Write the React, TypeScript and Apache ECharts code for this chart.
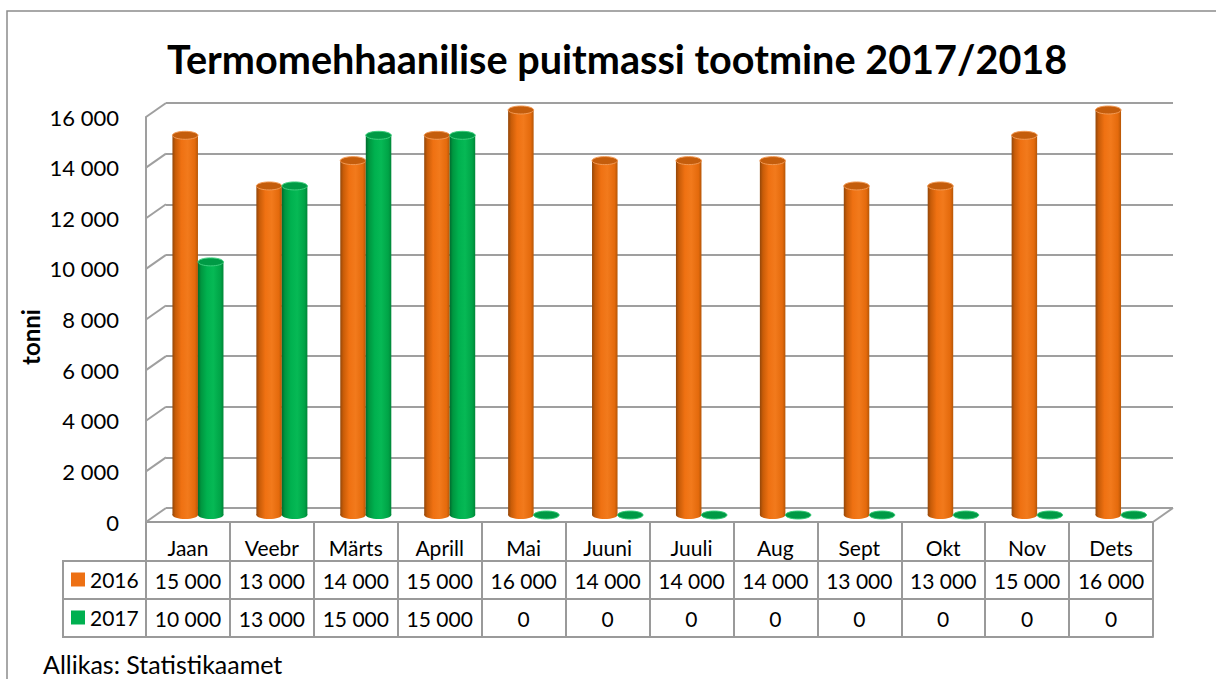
import React, { useEffect, useRef } from "react";
import * as echarts from "echarts";

const months = ["Jaan", "Veebr", "Märts", "Aprill", "Mai", "Juuni", "Juuli", "Aug", "Sept", "Okt", "Nov", "Dets"];
const values2016 = [15000, 13000, 14000, 15000, 16000, 14000, 14000, 14000, 13000, 13000, 15000, 16000];
const values2017 = [10000, 13000, 15000, 15000, 0, 0, 0, 0, 0, 0, 0, 0];
const yTicks = [0, 2000, 4000, 6000, 8000, 10000, 12000, 14000, 16000];
const seriesNames = ["2016", "2017"];
const titleText = "Termomehhaanilise puitmassi tootmine 2017/2018";
const yAxisTitle = "tonni";
const sourceText = "Allikas: Statistikaamet";

const FONT = "Lato";
const GRID_COLOR = "#9f9f9f";
const TABLE_COLOR = "#9a9a9a";
const DEPTH_X = 20;
const DEPTH_Y = 14;

const fmt = (v: number) => String(v).replace(/\B(?=(\d{3})+(?!\d))/g, " ");

const orangeBody = () =>
  new echarts.graphic.LinearGradient(0, 0, 1, 0, [
    { offset: 0, color: "#93470a" },
    { offset: 0.12, color: "#c85c08" },
    { offset: 0.35, color: "#ef7112" },
    { offset: 0.6, color: "#f27a1c" },
    { offset: 0.88, color: "#e46a0c" },
    { offset: 1, color: "#b65606" },
  ]);
const greenBody = () =>
  new echarts.graphic.LinearGradient(0, 0, 1, 0, [
    { offset: 0, color: "#006b2e" },
    { offset: 0.12, color: "#00963f" },
    { offset: 0.35, color: "#00b14f" },
    { offset: 0.6, color: "#06b955" },
    { offset: 0.88, color: "#00a447" },
    { offset: 1, color: "#008638" },
  ]);

function cylinderRenderer(sign: number, bodyFn: () => any, topFill: string, topStroke: string) {
  return (params: any, api: any) => {
    const idx = api.value(0);
    const v = api.value(1);
    const top = api.coord([idx, v]);
    const base = api.coord([idx, 0]);
    const cw = api.size([1, 0])[0];
    const bw = cw * 0.304;
    const cx = top[0] + (sign * bw) / 2;
    const ry = 4;
    const children: any[] = [];
    children.push({
      type: "ellipse",
      shape: { cx, cy: base[1], rx: bw / 2, ry },
      style: { fill: bodyFn() },
    });
    if (base[1] - top[1] > 0.5) {
      children.push({
        type: "rect",
        shape: { x: cx - bw / 2, y: top[1], width: bw, height: base[1] - top[1] },
        style: { fill: bodyFn() },
      });
    }
    children.push({
      type: "ellipse",
      shape: { cx, cy: top[1], rx: bw / 2, ry },
      style: { fill: topFill, stroke: topStroke, lineWidth: 1 },
    });
    return { type: "group", children };
  };
}

const valueAxis = (values: number[], offset: number) => ({
  type: "category",
  gridIndex: 1,
  data: months,
  position: "bottom",
  offset,
  axisLine: { show: true, lineStyle: { color: TABLE_COLOR, width: 2 } },
  axisTick: { show: false },
  axisLabel: {
    interval: 0,
    fontSize: 21,
    color: "#000",
    margin: 19,
    verticalAlign: "middle",
    fontFamily: FONT,
    formatter: (_: string, i: number) => fmt(values[i]),
  },
});

export default function App() {
  const ref = useRef<HTMLDivElement>(null);

  useEffect(() => {
    if (!ref.current) return;
    const chart = echarts.init(ref.current, null, { renderer: "svg" });

    const diagData = yTicks.map((t) => [0, t]);

    const option: any = {
      animation: false,
      backgroundColor: "#ffffff",
      textStyle: { fontFamily: FONT, color: "#000" },
      title: {
        text: titleText,
        left: 162,
        top: 33,
        textStyle: { fontFamily: FONT, fontSize: 39.6, fontWeight: "bold", color: "#000" },
      },
      legend: {
        data: seriesNames,
        orient: "vertical",
        left: 71,
        top: 569,
        padding: 0,
        itemWidth: 14,
        itemHeight: 14,
        itemGap: 17,
        icon: "rect",
        selectedMode: false,
        textStyle: { fontFamily: FONT, fontSize: 21, color: "#000" },
      },
      grid: [
        { left: 166, right: 43, top: 103, bottom: 171 },
        { left: 146, right: 63, top: 117, bottom: 157 },
        { left: 156, right: 53, top: 110, bottom: 164 },
      ],
      xAxis: [
        { type: "category", gridIndex: 0, data: months, show: false },
        {
          type: "category",
          gridIndex: 1,
          data: months,
          position: "bottom",
          axisLine: { show: true, lineStyle: { color: TABLE_COLOR, width: 2 } },
          axisTick: { show: true, interval: 0, length: 115, lineStyle: { color: TABLE_COLOR, width: 2 } },
          axisLabel: { interval: 0, fontSize: 21, color: "#000", margin: 25, verticalAlign: "middle", fontFamily: FONT },
        },
        valueAxis(values2016, 39),
        valueAxis(values2017, 77),
        {
          type: "category",
          gridIndex: 1,
          data: months,
          position: "bottom",
          offset: 115,
          axisLine: { show: true, lineStyle: { color: TABLE_COLOR, width: 2 } },
          axisTick: { show: false },
          axisLabel: { show: false },
        },
        { type: "category", gridIndex: 2, data: months, show: false },
      ],
      yAxis: [
        {
          type: "value",
          gridIndex: 0,
          min: 0,
          max: 16000,
          interval: 2000,
          axisLine: { show: false },
          axisTick: { show: false },
          axisLabel: { show: false },
          splitLine: { show: true, lineStyle: { color: GRID_COLOR, width: 2 } },
        },
        {
          type: "value",
          gridIndex: 1,
          min: 0,
          max: 16000,
          interval: 2000,
          axisLine: { show: true, lineStyle: { color: GRID_COLOR, width: 2 } },
          axisTick: { show: false },
          splitLine: { show: false },
          axisLabel: { fontSize: 22, color: "#000", margin: 27, fontFamily: FONT, formatter: (v: number) => fmt(v) },
        },
        { type: "value", gridIndex: 2, min: 0, max: 16000, show: false, splitLine: { show: false } },
      ],
      series: [
        {
          name: "walls",
          type: "custom",
          xAxisIndex: 0,
          yAxisIndex: 0,
          silent: true,
          data: diagData,
          encode: { x: 0, y: 1 },
          renderItem: (params: any, api: any) => {
            const v = api.value(1);
            const p = api.coord([0, v]);
            const cw = api.size([1, 0])[0];
            const x0 = p[0] - cw / 2;
            const children: any[] = [
              {
                type: "line",
                shape: { x1: x0, y1: p[1], x2: x0 - DEPTH_X, y2: p[1] + DEPTH_Y },
                style: { stroke: GRID_COLOR, lineWidth: 2 },
              },
            ];
            if (v === 0) {
              const pr = api.coord([months.length - 1, 0]);
              const x1 = pr[0] + cw / 2;
              children.push({
                type: "line",
                shape: { x1, y1: p[1], x2: x1 - DEPTH_X, y2: p[1] + DEPTH_Y },
                style: { stroke: GRID_COLOR, lineWidth: 2 },
              });
            }
            return { type: "group", children };
          },
        },
        {
          name: seriesNames[0],
          type: "custom",
          xAxisIndex: 5,
          yAxisIndex: 2,
          itemStyle: { color: "#ED7014" },
          data: values2016.map((v, i) => [i, v]),
          encode: { x: 0, y: 1 },
          renderItem: cylinderRenderer(-1, orangeBody, "#c45d0c", "#f29a55"),
        },
        {
          name: seriesNames[1],
          type: "custom",
          xAxisIndex: 5,
          yAxisIndex: 2,
          itemStyle: { color: "#00B050" },
          data: values2017.map((v, i) => [i, v]),
          encode: { x: 0, y: 1 },
          renderItem: cylinderRenderer(1, greenBody, "#009a45", "#3fcf7e"),
        },
      ],
      graphic: [
        {
          type: "rect",
          shape: { x: 7, y: 11, width: 1400, height: 900 },
          style: { fill: "none", stroke: "#8c8c8c", lineWidth: 1.5 },
          silent: true,
        },
        {
          type: "polyline",
          shape: { points: [[147, 561], [63, 561], [63, 637], [147, 637]] },
          style: { fill: "none", stroke: TABLE_COLOR, lineWidth: 2 },
          silent: true,
        },
        {
          type: "line",
          shape: { x1: 63, y1: 599, x2: 147, y2: 599 },
          style: { stroke: TABLE_COLOR, lineWidth: 2 },
          silent: true,
        },
        {
          type: "text",
          x: 30,
          y: 337,
          rotation: Math.PI / 2,
          style: {
            text: yAxisTitle,
            fontFamily: FONT,
            fontSize: 24,
            fontWeight: "bold",
            fill: "#000",
            align: "center",
            verticalAlign: "middle",
          },
        },
        {
          type: "text",
          x: 43,
          y: 651,
          style: {
            text: sourceText,
            fontFamily: FONT,
            fontSize: 25,
            fill: "#000",
            align: "left",
            verticalAlign: "top",
          },
        },
      ],
    };

    chart.setOption(option);
    return () => chart.dispose();
  }, []);

  return (
    <div
      ref={ref}
      style={{ position: "fixed", left: 0, top: 0, width: 1216, height: 679 }}
    />
  );
}
